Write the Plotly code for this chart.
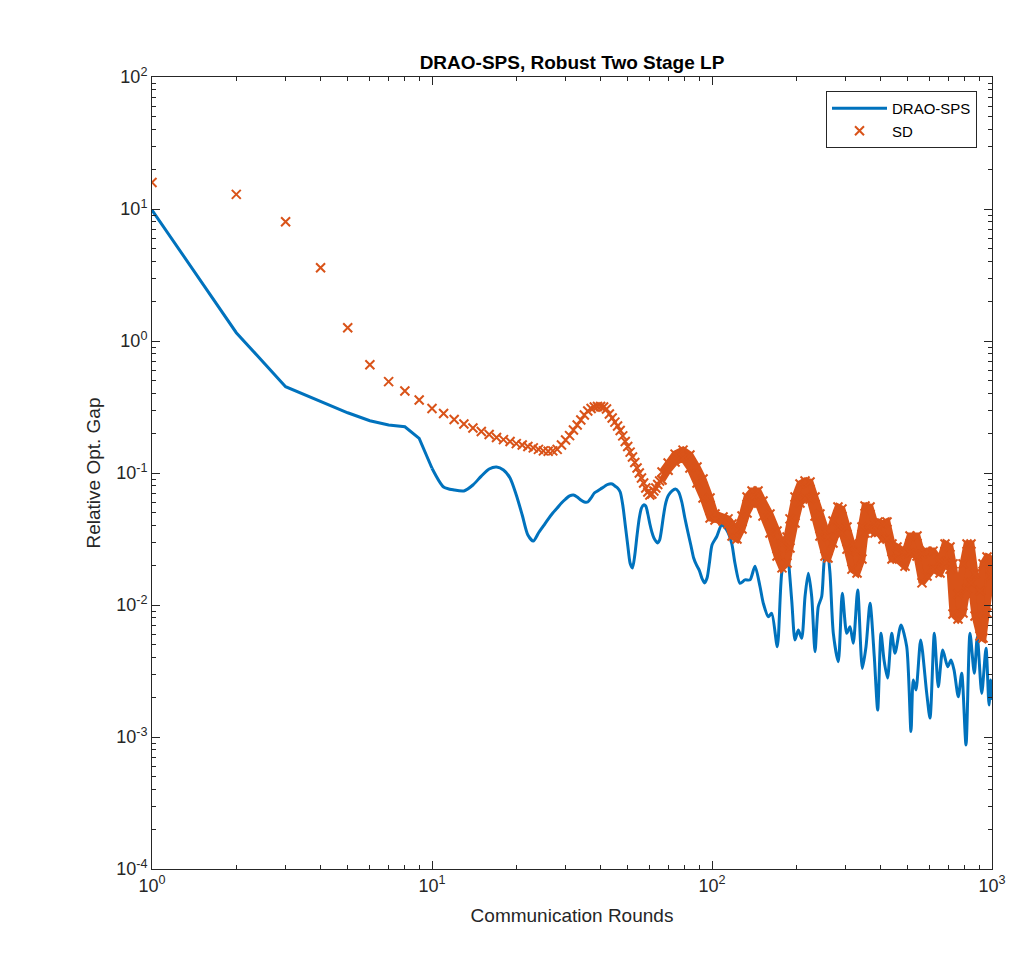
import plotly.graph_objects as go

# ---------------- data ----------------
drao_x = [1, 2, 3, 4, 5, 6, 7, 8, 9, 10, 11, 12, 13, 14, 15, 16, 17, 18, 19, 20,
          21, 22, 23, 24, 25, 26, 27, 28, 29, 30, 31, 32, 33, 34, 35, 36, 37, 38, 39, 40,
          41, 42, 43, 44, 45, 46, 47, 48, 49, 50, 51, 52, 53, 54, 55, 56, 57, 58, 59, 60,
          61, 62, 63, 64, 65, 66, 67, 68, 69, 70, 72, 74, 76, 78, 80, 82, 84, 86, 88, 90,
          92, 94, 96, 98, 100,
          103.9, 108.3, 112.8, 117.6, 120.8, 125.9, 131.2, 136.7, 142.4, 148.4,
          152.5, 158.9, 163.4, 171.1, 177.4, 184.9, 192.6, 197.9, 203.3, 209.1,
          214.9, 220.8, 227.0, 233.3, 239.6, 246.5, 251.9, 258.1, 263.9, 271.2,
          282.5, 292.0, 302.8, 311.1, 319.6, 331.4, 344.2, 354.8, 366.8, 379.8,
          390.6, 401.4, 411.5, 423.6, 438.3, 450.4, 473.2, 496.0, 513.6, 523.4,
          535.2, 556.4, 584.6, 600.7, 622.3, 643.1, 666.8, 694.8, 714.0, 731.8,
          757.9, 779.5, 807.5, 834.5, 864.6, 886.3, 918.9, 951.9, 975.6, 989.4, 1000]
drao_y = [9.83, 1.156, 0.451, 0.347, 0.286, 0.249, 0.231, 0.224, 0.183, 0.1086,
          0.0783, 0.0743, 0.0731, 0.0811, 0.0948, 0.1072, 0.1110, 0.1054, 0.0917, 0.0681,
          0.0481, 0.0339, 0.0305, 0.0351, 0.0397, 0.0448, 0.0498, 0.0543, 0.0593, 0.0635,
          0.0670, 0.0681, 0.0658, 0.0625, 0.0603, 0.0603, 0.0647, 0.0705, 0.0731, 0.0757,
          0.0783, 0.0811, 0.0826, 0.0826, 0.0797, 0.0769, 0.0718, 0.0573, 0.0404, 0.0285,
          0.0207, 0.0191, 0.0239, 0.0339, 0.0456, 0.0543, 0.0573, 0.0562, 0.0489, 0.0411,
          0.0357, 0.0322, 0.0305, 0.0295, 0.0311, 0.0370, 0.0464, 0.0562, 0.0635, 0.0681,
          0.0731, 0.0757, 0.0718, 0.0603, 0.0456, 0.0357, 0.0285, 0.0227, 0.0201, 0.0184,
          0.0160, 0.0147, 0.0160, 0.0212, 0.0285,
          0.0329, 0.0404, 0.0370, 0.0293, 0.0207, 0.0146, 0.0155, 0.0155, 0.0197, 0.0138,
          0.0103, 0.00815, 0.00865, 0.00483, 0.0174, 0.0261, 0.0109, 0.00543, 0.00646, 0.00559,
          0.0116, 0.0174, 0.0116, 0.00443, 0.00971, 0.0116, 0.0219, 0.0261, 0.0174, 0.00610,
          0.00372, 0.0123, 0.00610, 0.00685, 0.00513, 0.0130, 0.00331, 0.00483, 0.0103, 0.00406,
          0.00160, 0.00610, 0.00383, 0.00280, 0.00610, 0.00431, 0.00706, 0.00483, 0.00110, 0.00270,
          0.00227, 0.00543, 0.00214, 0.00139, 0.00610, 0.00240, 0.00456, 0.00341, 0.00383, 0.00322,
          0.00202, 0.00304, 0.000870, 0.00610, 0.00304, 0.00575, 0.00214, 0.00470, 0.00175, 0.00270,
          0.00191]

# SD: individually visible markers (early rounds)
sd_x = list(range(1, 66))
sd_y = [15.9, 12.9, 8.0, 3.59, 1.26, 0.661, 0.492, 0.418, 0.357, 0.308,
        0.282, 0.254, 0.235, 0.219, 0.206, 0.196, 0.186, 0.179, 0.173, 0.167,
        0.163, 0.159, 0.155, 0.151, 0.147, 0.146, 0.147, 0.151, 0.163, 0.178,
        0.192, 0.212, 0.231, 0.252, 0.275, 0.295, 0.308, 0.316, 0.319, 0.319,
        0.316, 0.305, 0.280, 0.261, 0.243, 0.227, 0.210, 0.191, 0.173, 0.159,
        0.144, 0.132, 0.120, 0.109, 0.100, 0.0917, 0.0840, 0.0769, 0.0718, 0.0681,
        0.0693, 0.0731, 0.0769, 0.0818, 0.0869]

# SD: dense oscillating part, upper / lower marker rows of the band
sd_band_x = [66.3, 69.7, 73.8, 78.8, 83.4, 88.4, 92.9, 98.4, 102.5, 109.5,
             114.1, 117.9, 122.8, 128.0, 133.4, 139.0, 146.0, 152.1, 161.1, 170.7,
             177.8, 185.3, 189.9, 197.9, 206.2, 214.9, 223.9, 233.3, 243.0, 253.2,
             259.6, 270.5, 281.8, 291.2, 303.5, 316.2, 329.6, 343.3, 352.0, 366.8,
             382.1, 391.7, 408.1, 421.7, 439.4, 457.9, 489.0, 509.5, 539.7, 562.3,
             586.1, 615.8, 652.1, 679.5, 707.9, 725.6, 756.2, 787.9, 814.3, 841.4,
             869.6, 906.1, 928.9, 959.7, 991.8]
sd_band_hi = [0.1018, 0.119, 0.139, 0.149, 0.137, 0.111, 0.090, 0.0647, 0.0489, 0.0464,
              0.0449, 0.0411, 0.0370, 0.0472, 0.0658, 0.0731, 0.0731, 0.0614, 0.0489, 0.0364,
              0.0290, 0.0327, 0.0449, 0.0658, 0.0826, 0.0869, 0.0855, 0.0658, 0.0489, 0.0364,
              0.0327, 0.0433, 0.0552, 0.0533, 0.0390, 0.0290, 0.0256, 0.0390, 0.0562, 0.0552,
              0.0411, 0.0426, 0.0411, 0.0426, 0.0290, 0.0275, 0.0252, 0.0333, 0.0333, 0.0243,
              0.0256, 0.0256, 0.0216, 0.0290, 0.0275, 0.0205, 0.0121, 0.0205, 0.0290, 0.0290,
              0.0172, 0.0128, 0.0205, 0.0231, 0.0223]
sd_band_lo = [0.0885, 0.105, 0.121, 0.130, 0.109, 0.084, 0.0647, 0.0456, 0.0441, 0.0433,
              0.0411, 0.0333, 0.0316, 0.0377, 0.0498, 0.0593, 0.0593, 0.0472, 0.0351, 0.0235,
              0.0191, 0.0208, 0.0270, 0.0418, 0.0593, 0.0647, 0.0635, 0.0472, 0.0333, 0.0235,
              0.0227, 0.0295, 0.0377, 0.0351, 0.0265, 0.0187, 0.0175, 0.0223, 0.0351, 0.0377,
              0.0351, 0.0364, 0.0316, 0.0316, 0.0223, 0.0223, 0.0197, 0.0248, 0.0235, 0.0147,
              0.0166, 0.0187, 0.0175, 0.0208, 0.0187, 0.00855, 0.00783, 0.00869, 0.0132, 0.0147,
              0.00826, 0.00582, 0.00562, 0.00869, 0.0166]

x_tick_vals = [1, 10, 100, 1000]
x_tick_text = ["10<sup>0</sup>", "10<sup>1</sup>", "10<sup>2</sup>", "10<sup>3</sup>"]
y_tick_vals = [1e-4, 1e-3, 1e-2, 1e-1, 1, 10, 100]
y_tick_text = ["10<sup>-4</sup>", "10<sup>-3</sup>", "10<sup>-2</sup>", "10<sup>-1</sup>",
               "10<sup>0</sup>", "10<sup>1</sup>", "10<sup>2</sup>"]
x_minor = [2, 3, 4, 5, 6, 7, 8, 9, 20, 30, 40, 50, 60, 70, 80, 90,
           200, 300, 400, 500, 600, 700, 800, 900]
y_minor = [m * d for d in [1e-4, 1e-3, 1e-2, 1e-1, 1, 10] for m in range(2, 10)]

BLUE = "#0072BD"
ORANGE = "#D95319"
AX = "#262626"
FONT = "Liberation Sans, Arial, Helvetica, sans-serif"

# page body has an 8px margin: figure is placed at (8, 8) in the window
W, H = 1009, 957
ML, MT, PW, PH = 144, 69, 840, 792
MR, MB = W - ML - PW, H - MT - PH

fig = go.Figure()

split = drao_x.index(10)
fig.add_trace(go.Scatter(
    x=drao_x[:split + 1], y=drao_y[:split + 1], mode="lines", name="DRAO-SPS",
    legendgroup="drao", line=dict(color=BLUE, width=3)))
fig.add_trace(go.Scatter(
    x=drao_x[split:], y=drao_y[split:], mode="lines", name="DRAO-SPS",
    legendgroup="drao", showlegend=False, hoverinfo="skip",
    line=dict(color=BLUE, width=3, shape="spline", smoothing=0.7)))

# filled body of the dense SD band (stroke width mimics marker extent)
fig.add_trace(go.Scatter(
    x=sd_band_x + sd_band_x[::-1], y=sd_band_hi + sd_band_lo[::-1],
    mode="lines", fill="toself", fillcolor=ORANGE,
    line=dict(width=7, color=ORANGE), showlegend=False, hoverinfo="skip"))

sd_all_x = list(sd_x)
sd_all_y = list(sd_y)
for bx, hi, lo in zip(sd_band_x, sd_band_hi, sd_band_lo):
    sd_all_x += [bx, bx]
    sd_all_y += [hi, lo]

fig.add_trace(go.Scatter(
    x=sd_all_x, y=sd_all_y, mode="markers", name="SD",
    marker=dict(symbol="x-thin", size=9, color=ORANGE,
                line=dict(color=ORANGE, width=2))))

axis_common = dict(
    type="log", showline=True, linecolor=AX, linewidth=1, mirror="ticks",
    ticks="inside", ticklen=8, tickcolor=AX, tickwidth=1, showgrid=False,
    zeroline=False, tickfont=dict(family=FONT, size=18, color=AX),
)

fig.update_layout(
    width=W, height=H, autosize=False,
    margin=dict(l=ML, r=MR, t=MT, b=MB, pad=0),
    paper_bgcolor="white", plot_bgcolor="white",
    font=dict(family=FONT, color=AX),
    title=dict(text="<b>DRAO-SPS, Robust Two Stage LP</b>",
               x=(ML + PW / 2) / W, xanchor="center", y=1 - 54 / H, yanchor="middle",
               font=dict(family=FONT, size=19, color="black")),
    xaxis=dict(**axis_common, range=[0, 3], tickmode="array",
               tickvals=x_tick_vals, ticktext=x_tick_text,
               minor=dict(tickmode="array", tickvals=x_minor, ticks="inside",
                          ticklen=4, tickcolor=AX, showgrid=False),
               title=dict(text="Communication Rounds", standoff=14,
                          font=dict(family=FONT, size=19, color=AX))),
    yaxis=dict(**axis_common, range=[-4, 2], tickmode="array",
               tickvals=y_tick_vals, ticktext=y_tick_text,
               minor=dict(tickmode="array", tickvals=y_minor, ticks="inside",
                          ticklen=4, tickcolor=AX, showgrid=False),
               title=dict(text="Relative Opt. Gap", standoff=10,
                          font=dict(family=FONT, size=19, color=AX))),
    legend=dict(x=(977 - 152) / PW, xanchor="right",
                y=(869 - 91) / PH, yanchor="top",
                bgcolor="white", bordercolor=AX, borderwidth=1,
                font=dict(family=FONT, size=15, color="black"),
                tracegroupgap=0, itemwidth=55),
    showlegend=True,
)

fig.write_html("out.html")
